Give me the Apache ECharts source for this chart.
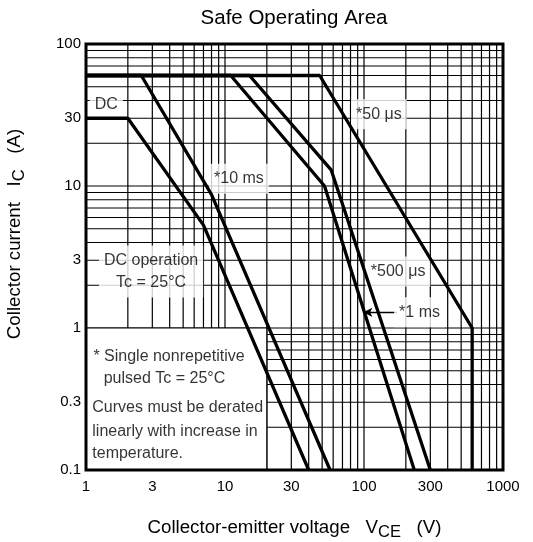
<!DOCTYPE html>
<html><head><meta charset="utf-8">
<script src="https://cdn.jsdelivr.net/npm/echarts@6/dist/echarts.min.js"></script>
<style>html,body{margin:0;padding:0;background:#fff}#c{width:533px;height:542px}</style>
</head><body><div id="c"></div>
<script>
// axis ticks
const xTicks = [1, 3, 10, 30, 100, 300, 1000];
const yTicks = [0.1, 0.3, 1, 3, 10, 30, 100];
// curves (V, A)
const dcV    = [1, 2, 7, 40];        const dcI    = [30, 30, 5.3, 0.1];
const ms10V  = [1, 2.5, 8, 57];      const ms10I  = [60, 60, 8.7, 0.1];
const ms1V   = [1, 11, 52, 230];     const ms1I   = [60, 60, 10, 0.1];
const us500V = [1, 15, 58, 300];     const us500I = [60, 60, 13, 0.1];
const us50V  = [1, 48, 600, 600];    const us50I  = [60, 60, 1, 0.1];
// curve labels
const labelText = ['DC', '*10 ms', '*50 \u03bcs', '*500 \u03bcs', '*1 ms', 'DC operation\nTc = 25\u00b0C'];
const labelV = [1.4, 12.6, 128, 176, 251, 2.94];
const labelI = [37.5, 11.25, 32.0, 2.5, 1.29, 2.5];
// arrow for *1 ms
const arrowV = [172, 99];
const arrowI = [1.29, 1.29];
// note box
const boxV = [1, 20];
const boxI = [0.1, 1];
const noteText = ['* Single nonrepetitive', 'pulsed Tc = 25\u00b0C', 'Curves must be derated', 'linearly with increase in', 'temperature.'];
const noteV = [1.13, 1.34, 1.11, 1.11, 1.11];
const noteI = [0.63, 0.439, 0.273, 0.186, 0.130];

const F = '"Liberation Sans", Arial, sans-serif';
const xMin = xTicks[0], xMax = xTicks[xTicks.length - 1];
const yMin = yTicks[0], yMax = yTicks[yTicks.length - 1];
const gridX = [], gridY = [];
[1, 10, 100].forEach(d => { for (let k = 1; k <= 9; k++) { const v = +(k * d).toFixed(4); if (v > xMin) gridX.push(v); } });
[0.1, 1, 10].forEach(d => { for (let k = 1; k <= 9; k++) { const v = +(k * d).toFixed(4); if (v > yMin) gridY.push(v); } });

const zip = (a, b) => a.map((v, i) => [v, b[i]]);
const curve = (name, xs, ys) => ({
  type: 'line', name, data: zip(xs, ys), symbol: 'none', z: 8, silent: true,
  lineStyle: { color: '#000', width: 3.3 }
});
const gridLineItem = (params, api) => {
  const a = api.coord([api.value(0), api.value(1)]);
  const b = api.coord([api.value(2), api.value(3)]);
  return { type: 'line', shape: { x1: a[0], y1: a[1], x2: b[0], y2: b[1] }, style: { stroke: '#000', lineWidth: 1.2 } };
};

const chart = echarts.init(document.getElementById('c'), null, { renderer: 'canvas' });
chart.setOption({
  animation: false,
  backgroundColor: '#fff',
  graphic: [{
    type: 'text', x: 294, y: 18, z: 20,
    style: { text: 'Safe Operating Area', font: '20.5px ' + F, fill: '#000', textAlign: 'center', textVerticalAlign: 'middle' }
  }],
  grid: { left: 86, right: 30, top: 44, bottom: 72, show: true, borderColor: '#000', borderWidth: 3, z: 10,
          containLabel: false, outerBoundsMode: 'none' },
  xAxis: {
    type: 'log', logBase: 10, min: xMin, max: xMax, z: 10,
    axisLine: { show: false }, axisTick: { show: false }, splitLine: { show: false },
    axisLabel: { customValues: xTicks, formatter: v => String(v), color: '#000', fontSize: 15, fontFamily: F, margin: 9 },
    name: 'Collector-emitter voltage   V{sub|CE}   (V)', nameLocation: 'middle', nameGap: 44,
    nameTextStyle: { color: '#000', fontSize: 18.7, fontFamily: F, rich: { sub: { fontSize: 16.5, fontFamily: F, color: '#000', padding: [10, 0, 0, 0] } } }
  },
  yAxis: {
    type: 'log', logBase: 10, min: yMin, max: yMax, z: 10,
    axisLine: { show: false }, axisTick: { show: false }, splitLine: { show: false },
    axisLabel: { customValues: yTicks, formatter: v => String(v), color: '#000', fontSize: 15, fontFamily: F, margin: 5 },
    name: 'Collector current   I{sub|C}   (A)', nameLocation: 'middle', nameGap: 58, nameRotate: 90,
    nameTextStyle: { color: '#000', fontSize: 18.7, fontFamily: F, padding: [0, 0, 0, 46], rich: { sub: { fontSize: 16.5, fontFamily: F, color: '#000', padding: [10, 0, 0, 0] } } }
  },
  series: [
    {
      type: 'custom', z: 1, silent: true, clip: false,
      encode: { x: [0, 2], y: [1, 3] },
      data: gridX.map(v => [v, yMin, v, yMax]).concat(gridY.map(v => [xMin, v, xMax, v])),
      renderItem: gridLineItem
    },
    {
      type: 'custom', z: 2, silent: true, clip: false,
      encode: { x: [0, 2], y: [1, 3] },
      data: [[boxV[0], boxI[0], boxV[1], boxI[1]]],
      renderItem: (params, api) => {
        const a = api.coord([api.value(0), api.value(1)]);
        const b = api.coord([api.value(2), api.value(3)]);
        return { type: 'rect', shape: { x: a[0], y: b[1], width: b[0] - a[0], height: a[1] - b[1] },
                 style: { fill: '#fff', stroke: '#000', lineWidth: 1.2 } };
      }
    },
    {
      type: 'scatter', z: 6, symbolSize: 0, silent: true,
      data: labelText.map((t, i) => ({ value: [labelV[i], labelI[i]], name: t })),
      label: { show: true, position: 'inside', formatter: p => p.name, color: '#000', fontSize: 16, fontFamily: F,
               lineHeight: 22, backgroundColor: '#fff', padding: [4, 5] },
      markLine: {
        silent: true, symbol: ['none', 'arrow'], symbolSize: [7, 9], animation: false,
        label: { show: false }, lineStyle: { color: '#000', width: 1.3, type: 'solid' },
        data: [[{ coord: [arrowV[0], arrowI[0]] }, { coord: [arrowV[1], arrowI[1]] }]]
      }
    },
    {
      type: 'scatter', z: 6, symbolSize: 0, silent: true,
      data: noteText.map((t, i) => ({ value: [noteV[i], noteI[i]], name: t })),
      label: { show: true, position: 'right', distance: 0, formatter: p => p.name, color: '#000', fontSize: 16, fontFamily: F }
    },
    curve('DC', dcV, dcI),
    curve('10ms', ms10V, ms10I),
    curve('1ms', ms1V, ms1I),
    curve('500us', us500V, us500I),
    curve('50us', us50V, us50I)
  ]
});
</script></body></html>
